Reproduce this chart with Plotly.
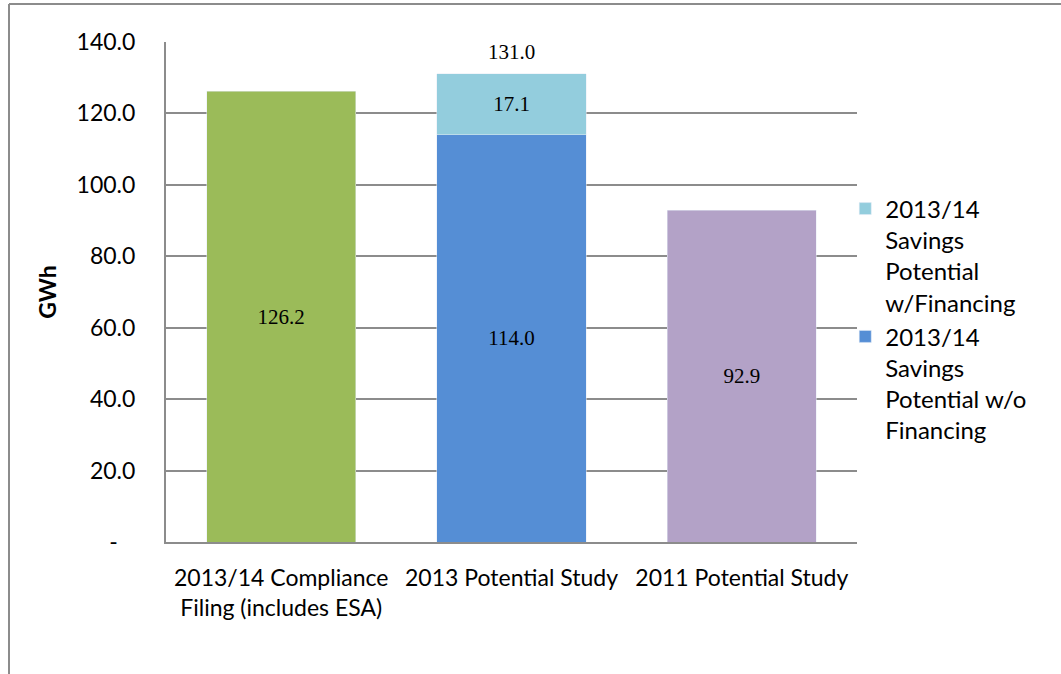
import plotly.graph_objects as go

categories = ["2013/14 Compliance<br>Filing (includes ESA)", "2013 Potential Study", "2011 Potential Study"]
compliance_filing = [126.2]
potential_wo_financing = [114.0]
potential_w_financing = [17.1]
potential_2011 = [92.9]
total_2013 = [131.0]
y_tickvals = [0, 20, 40, 60, 80, 100, 120, 140]
y_ticktext = ["-\u00a0\u00a0\u00a0", "20.0", "40.0", "60.0", "80.0", "100.0", "120.0", "140.0"]

label_font = dict(family="Liberation Serif", size=21, color="#000000")
fig = go.Figure()
fig.add_trace(go.Bar(x=[categories[0]], y=compliance_filing, marker_color="#9BBB59",
                     text=[f"{v:.1f}" for v in compliance_filing], textposition="inside",
                     insidetextanchor="middle", textfont=label_font, showlegend=False,
                     name="2013/14 Compliance Filing"))
fig.add_trace(go.Bar(x=[categories[1]], y=potential_wo_financing, marker_color="#558ED5",
                     text=[f"{v:.1f}" for v in potential_wo_financing], textposition="inside",
                     insidetextanchor="middle", textfont=label_font,
                     name="2013/14<br>Savings<br>Potential w/o<br>Financing"))
fig.add_trace(go.Bar(x=[categories[1]], y=potential_w_financing, marker_color="#93CDDD",
                     text=[f"{v:.1f}" for v in potential_w_financing], textposition="inside",
                     insidetextanchor="middle", textfont=label_font,
                     name="2013/14<br>Savings<br>Potential<br>w/Financing"))
fig.add_trace(go.Bar(x=[categories[2]], y=potential_2011, marker_color="#B3A2C7",
                     text=[f"{v:.1f}" for v in potential_2011], textposition="inside",
                     insidetextanchor="middle", textfont=label_font, showlegend=False,
                     name="2011 Potential Study"))

fig.add_annotation(x=categories[1], y=total_2013[0], text=f"{total_2013[0]:.1f}", showarrow=False,
                   yanchor="bottom", yshift=8, font=label_font)

# outer frame (top and left edges)
fig.add_shape(type="line", xref="paper", yref="paper", x0=-0.2272, x1=1.4, y0=1.0759, y1=1.0759,
              line=dict(color="#8C8C8C", width=2))
fig.add_shape(type="line", xref="paper", yref="paper", x0=-0.2272, x1=-0.2272, y0=1.0759, y1=-0.4,
              line=dict(color="#8C8C8C", width=2))

fig.update_layout(
    width=1061, height=674,
    barmode="stack", bargap=0.353,
    plot_bgcolor="white", paper_bgcolor="white",
    margin=dict(l=166, r=204, t=42, b=131.5, pad=0),
    font=dict(family="Lato", size=23, color="#000000"),
    legend=dict(x=0.983, xanchor="left", y=0.445, yanchor="middle", traceorder="reversed",
                font=dict(family="Lato", size=24), valign="top",
                bgcolor="rgba(0,0,0,0)"),
    showlegend=True,
)
fig.update_xaxes(showline=True, linecolor="#8C8C8C", linewidth=2, ticks="",
                 tickfont=dict(family="Lato", size=23), ticklabelstandoff=14)
fig.update_yaxes(range=[0, 140], tickvals=y_tickvals, ticktext=y_ticktext,
                 showline=True, linecolor="#8C8C8C", linewidth=2,
                 showgrid=True, gridcolor="#8C8C8C", gridwidth=1.5, zeroline=False, ticks="",
                 tickfont=dict(family="Lato", size=23), ticklabelstandoff=24,
                 title=dict(text="<b>GWh</b>", font=dict(family="Lato", size=23), standoff=14))

fig.write_html("out.html", config={"displayModeBar": False},
               post_script="document.body.style.margin='0';")
